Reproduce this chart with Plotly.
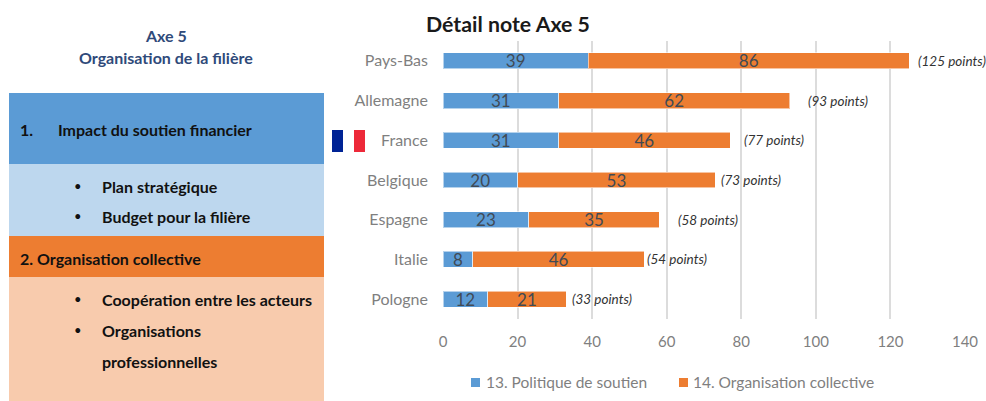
import plotly.graph_objects as go

W, H = 986, 401
L, R, T, B = 443, 965, 41, 319

countries = ["Pays-Bas", "Allemagne", "France", "Belgique", "Espagne", "Italie", "Pologne"]
soutien = [39, 31, 31, 20, 23, 8, 12]
organisation = [86, 62, 46, 53, 35, 46, 21]
totals = [125, 93, 77, 73, 58, 54, 33]
total_gaps = [7, 16, 12, 4, 17, 1, 4]
x_ticks = [0, 20, 40, 60, 80, 100, 120, 140]
FONT = "Lato, Carlito, Calibri, sans-serif"
GREY = "#7f7f7f"
BLUE = "#5B9BD5"
ORANGE = "#ED7D31"


def px(x):
    return (x - L) / (R - L)


def py(y):
    return (B - y) / (B - T)


fig = go.Figure()
for name, vals, col in [("13. Politique de soutien", soutien, BLUE),
                        ("14. Organisation collective", organisation, ORANGE)]:
    fig.add_trace(go.Bar(
        y=countries, x=vals, name=name, orientation="h",
        marker=dict(color=col, line=dict(color="rgba(255,255,255,0.55)", width=1)),
        text=vals, textposition="inside", insidetextanchor="middle", textangle=0,
        constraintext="none",
        textfont=dict(family=FONT, size=17, color="#404a55"), cliponaxis=False,
        showlegend=False,
    ))

shapes = []
for x0, x1, y0, y1, col in [(9, 324, 93, 164, BLUE), (9, 324, 164, 236, "#BDD7EE"),
                            (9, 324, 236, 277, ORANGE), (9, 324, 277, 401, "#F8CBAD"),
                            (332, 343, 130, 152, "#002395"), (354, 365, 130, 152, "#ED2939"),
                            (471, 480, 378, 387, BLUE), (679, 688, 378, 387, ORANGE)]:
    shapes.append(dict(type="rect", xref="paper", yref="paper", x0=px(x0), x1=px(x1),
                       y0=py(y0), y1=py(y1), fillcolor=col, line=dict(width=0), layer="above"))

annotations = []


def note(text, x, y, anchor="left", size=16, color="#111111", bold=True):
    t = f"<b>{text}</b>" if bold else text
    annotations.append(dict(text=t, xref="paper", yref="paper", x=px(x), y=py(y),
                            xanchor=anchor, yanchor="middle", showarrow=False,
                            font=dict(family=FONT, size=size, color=color)))


note("Axe 5", 166, 36, "center", color="#2F4A7A")
note("Organisation de la filière", 166, 58, "center", color="#2F4A7A")
note("1.", 18, 129)
note("Impact du soutien financier", 56, 129)
note("Plan stratégique", 100, 186)
note("Budget pour la filière", 100, 216)
note("2. Organisation collective", 18, 258)
note("Coopération entre les acteurs", 100, 299)
note("Organisations", 100, 330)
note("professionnelles", 100, 361)
for y in (186, 216, 299, 330):
    note("•", 72, y, size=13, bold=False)
note("13. Politique de soutien", 484, 382, size=15.5, color=GREY, bold=False)
note("14. Organisation collective", 691, 382, size=15.5, color=GREY, bold=False)

for c, t, g in zip(countries, totals, total_gaps):
    annotations.append(dict(text=f"({t} points)", x=t, y=c, xref="x", yref="y", xanchor="left",
                            xshift=g, showarrow=False,
                            font=dict(family=FONT, size=13.5, color="#333333", style="italic")))

fig.update_layout(
    width=W, height=H, autosize=False, barmode="stack", bargap=0.6,
    margin=dict(l=L, r=W - R, t=T, b=H - B, pad=0, autoexpand=False),
    paper_bgcolor="white", plot_bgcolor="white",
    font=dict(family=FONT, color=GREY, size=15),
    title=dict(text="<b>Détail note Axe 5</b>", x=426 / W, xanchor="left", xref="container",
               y=1 - 25 / H, yanchor="middle", yref="container",
               font=dict(family=FONT, size=21.3, color="#1a1a1a")),
    xaxis=dict(range=[0, 140], tickvals=x_ticks, showgrid=True, gridcolor="#DCDCDC", gridwidth=2,
               zeroline=False, showline=False, ticks="", ticklabelstandoff=12,
               tickfont=dict(family=FONT, size=15, color=GREY)),
    yaxis=dict(autorange="reversed", categoryorder="array", categoryarray=countries, showgrid=False,
               zeroline=False, showline=False, ticks="", ticklabelstandoff=14,
               tickfont=dict(family=FONT, size=16, color=GREY)),
    shapes=shapes, annotations=annotations, showlegend=False,
)
fig.write_html("out.html", post_script="document.body.style.margin='0';",
               config=dict(displayModeBar=False))
